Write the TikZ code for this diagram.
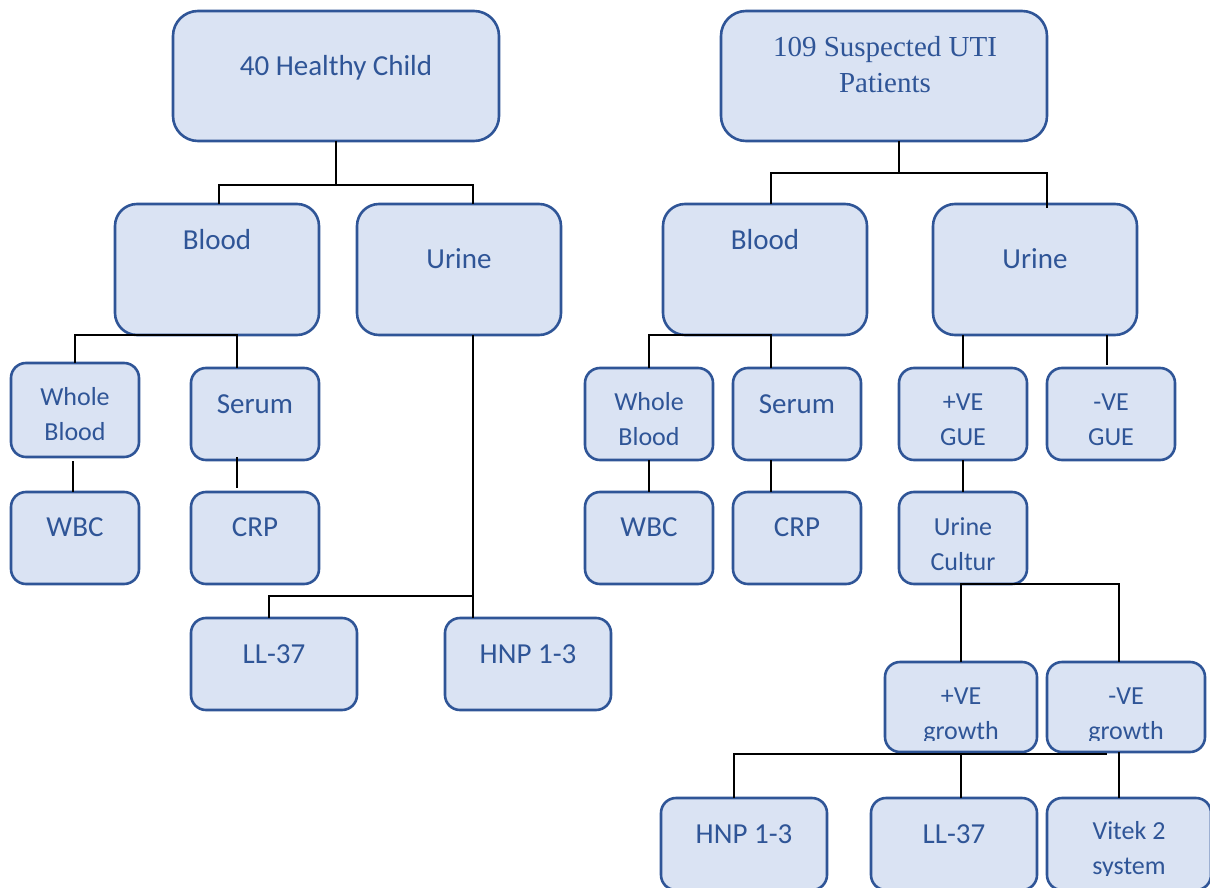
\documentclass[tikz,border=0pt]{standalone}
\usepackage{fontspec}
\setmainfont{Carlito}
\newfontfamily\tnr{Liberation Serif}
\usetikzlibrary{calc}
\definecolor{bfill}{HTML}{DAE3F3}
\definecolor{bline}{HTML}{2F5597}
\begin{document}
\begin{tikzpicture}[x=1pt,y=-1pt,
  box/.style={draw=bline, fill=bfill, line width=2.6pt, rounded corners=#1, inner sep=0pt, outer sep=0pt},
  box/.default=15pt,
  conn/.style={draw=black, line width=2.7pt},
  txt/.style={text=bline, anchor=base, inner sep=0pt, align=center, font=\fontsize{29}{35}\selectfont},
  stxt/.style={txt, font=\fontsize{26}{35}\selectfont},
  ttxt/.style={txt, font=\tnr\fontsize{29}{36}\selectfont}]
\useasboundingbox (0,0) rectangle (1210,888);
\clip (0,0) rectangle (1210,888);
% ---------- left tree boxes ----------
\node[box=25pt, minimum width=326pt, minimum height=130pt] (H) at (336,76) {};
\node[box=22pt, minimum width=204pt, minimum height=131pt] (BL) at (217,269.5) {};
\node[box=22pt, minimum width=204pt, minimum height=131pt] (UL) at (459,269.5) {};
\node[box, minimum width=128pt, minimum height=94pt] (WB) at (75,410) {};
\node[box, minimum width=128pt, minimum height=92pt] (SL) at (255,414) {};
\node[box, minimum width=128pt, minimum height=92pt] (WBC) at (75,538) {};
\node[box, minimum width=128pt, minimum height=92pt] (CRP) at (255,538) {};
\node[box, minimum width=166pt, minimum height=92pt] (LL) at (274,664) {};
\node[box, minimum width=166pt, minimum height=92pt] (HNP) at (528,664) {};
% ---------- right tree boxes ----------
\node[box=25pt, minimum width=326pt, minimum height=130pt] (S) at (884,76) {};
\node[box=22pt, minimum width=204pt, minimum height=131pt] (BR) at (765,269.5) {};
\node[box=22pt, minimum width=204pt, minimum height=131pt] (UR) at (1035,269.5) {};
\node[box, minimum width=128pt, minimum height=92pt] (WBR) at (649,414) {};
\node[box, minimum width=128pt, minimum height=92pt] (SR) at (797,414) {};
\node[box, minimum width=128pt, minimum height=92pt] (WBCR) at (649,538) {};
\node[box, minimum width=128pt, minimum height=92pt] (CRPR) at (797,538) {};
\node[box, minimum width=128pt, minimum height=92pt] (PG) at (963,414) {};
\node[box, minimum width=128pt, minimum height=92pt] (NG) at (1111,414) {};
\node[box, minimum width=128pt, minimum height=92pt] (UC) at (963,538) {};
\node[box, minimum width=152pt, minimum height=90pt] (PGr) at (961,707) {};
\node[box, minimum width=158pt, minimum height=90pt] (NGr) at (1126,707) {};
\node[box, minimum width=166pt, minimum height=92pt] (HNPR) at (744,844) {};
\node[box, minimum width=166pt, minimum height=92pt] (LLR) at (954,844) {};
\node[box, minimum width=164pt, minimum height=92pt] (VR) at (1129,844) {};
% ---------- texts ----------
\node[txt] (tH) at (336,76) {40 Healthy Child};
\node[txt] (tBL) at (217,249) {Blood};
\node[txt] (tUL) at (459,268) {Urine};
\node[stxt] (tWB) at (75,440) {Whole\\Blood};
\node[txt] (tSL) at (255,413) {Serum};
\node[txt] (tWBC) at (75,536) {WBC};
\node[txt] (tCRP) at (255,536) {CRP};
\node[txt] (tLL) at (274,663) {LL-37};
\node[txt] (tHNP) at (528,663) {HNP 1-3};
\node[ttxt] (tS) at (885,93) {109 Suspected UTI\\Patients};
\node[txt] (tBR) at (765,249) {Blood};
\node[txt] (tUR) at (1035,268) {Urine};
\node[stxt] (tWBR) at (649,445) {Whole\\Blood};
\node[txt] (tSR) at (797,413) {Serum};
\node[stxt] (tPG) at (963,445) {+VE\\GUE};
\node[stxt] (tNG) at (1111,445) {-VE\\GUE};
\node[txt] (tWBCR) at (649,536) {WBC};
\node[txt] (tCRPR) at (797,536) {CRP};
\node[stxt] (tUC) at (963,570) {Urine\\Cultur};
\begin{scope}
\clip (880,660) rectangle (1210,740);
\node[stxt] (tPGr) at (961,739) {+VE\\growth};
\node[stxt] (tNGr) at (1126,739) {-VE\\growth};
\end{scope}
\node[txt] (tHNPR) at (744,843) {HNP 1-3};
\node[txt] (tLLR) at (954,843) {LL-37};
\begin{scope}
\clip (1040,800) rectangle (1210,875);
\node[stxt] (tVR) at (1129,874) {Vitek 2\\system};
\end{scope}
% ---------- left connectors ----------
\coordinate (uLt) at ([xshift=14pt]UL.north);
\coordinate (uLb) at ([xshift=14pt]UL.south);
\coordinate (sLt) at ([xshift=-18pt]SL.north);
\draw[conn] (H.south) -- ++(0,44) coordinate (j1);
\draw[conn] ([xshift=2pt]BL.north) |- (j1) -| (uLt);
\draw[conn] (WB.north) |- (BL.south) -| (sLt);
\draw[conn] ([xshift=-2pt,yshift=-4pt]WB.south) -- ([xshift=-2pt]WBC.north);
\draw[conn] ([xshift=-18pt,yshift=3pt]SL.south) -- ([xshift=-18pt,yshift=4pt]CRP.north);
\draw[conn] (uLb) -- (uLb |- HNP.north);
\draw[conn] ([xshift=-5pt]LL.north) -- ++(0,-22) -| (uLb |- HNP.north);
% ---------- right connectors ----------
\coordinate (uRt) at ([xshift=12pt,yshift=-4pt]UR.north);
\coordinate (sRt) at ([xshift=-26pt]SR.north);
\draw[conn] ([xshift=15pt]S.south) -- ++(0,32) coordinate (j2);
\draw[conn] ([xshift=6pt]BR.north) |- (j2) -| (uRt);
\draw[conn] (WBR.north) |- (BR.south) -| (sRt);
\draw[conn] (WBR.south) -- (WBCR.north);
\draw[conn] ([xshift=-26pt]SR.south) -- ([xshift=-26pt]CRPR.north);
\draw[conn] (PG.north |- UR.south) -- (PG.north);
\draw[conn] ([xshift=-4pt]NG.north |- UR.south) -- ([xshift=-4pt,yshift=3pt]NG.north);
\draw[conn] (PG.south) -- (UC.north);
\draw[conn] (PGr.north) |- (UC.south) -| ([xshift=-7pt]NGr.north);
\draw[conn] ([xshift=-10pt]HNPR.north) |- ([yshift=-2pt]PGr.south) -- ([xshift=-19pt,yshift=-2pt]NGr.south);
\draw[conn] (LLR.north -| PGr.south) -- ([yshift=-2pt]PGr.south);
\draw[conn] ([xshift=-7pt]NGr.south) -- ([xshift=-10pt]VR.north);
\end{tikzpicture}
\end{document}
